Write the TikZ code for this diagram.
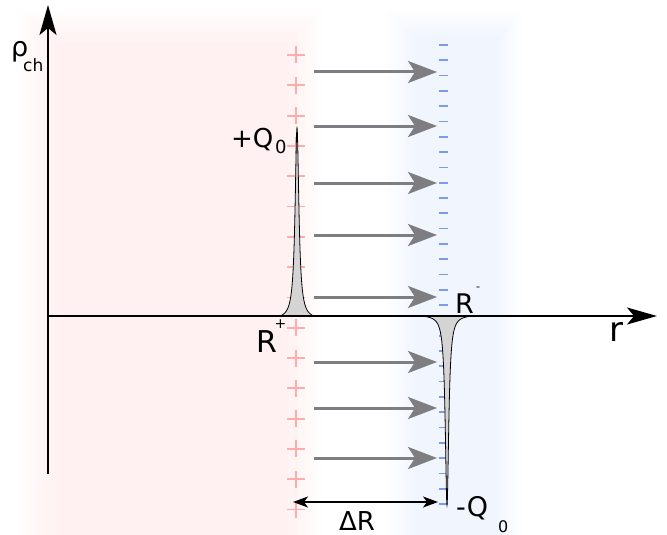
\documentclass[tikz,border=0pt]{standalone}
\usepackage{fontspec}
\setmainfont{DejaVu Sans}
\usetikzlibrary{arrows.meta}
\definecolor{pinkreg}{RGB}{255,190,190}
\definecolor{bluereg}{RGB}{185,210,250}
\definecolor{plusc}{RGB}{255,172,172}
\definecolor{minusc}{RGB}{125,155,235}
\definecolor{arrowgray}{RGB}{125,125,130}
\definecolor{peakfill}{RGB}{212,212,212}
\tikzset{
  lbl/.style={inner sep=0pt, anchor=base west, text=black},
  fieldarrow/.style={draw=arrowgray, fill=arrowgray, line width=3pt, -{Stealth[length=29pt,width=22pt,inset=7pt]}},
  axisline/.style={line width=1.4pt, -{Stealth[length=30pt,width=17pt,inset=7pt]}},
  dimarrow/.style={line width=1.3pt, {Stealth[length=15pt,width=11pt,inset=4pt]}-{Stealth[length=15pt,width=11pt,inset=4pt]}},
  plussign/.style={draw=plusc, line width=1.8pt},
  minussign/.style={draw=minusc, line width=1.7pt},
  peak/.style={fill=peakfill, draw=black, line width=0.8pt}
}
\begin{document}
\begin{tikzpicture}[x=1pt,y=-1pt]
\useasboundingbox (0,0) rectangle (667,535);
\clip (0,0) rectangle (667,535);
% soft background regions
\foreach \i in {0,...,19}{
  \fill[pinkreg, opacity=0.0135] ({15+45*\i/19},{8+37*\i/19}) rectangle ({322-37*\i/19},545);
  \fill[bluereg, opacity=0.0125] ({385+35*\i/19},{10+30*\i/19}) rectangle ({522-27*\i/19},545);
}
% charges
\foreach \k in {0,...,15}{
  \draw[plussign] ({287},{55+30.3*\k}) -- ++(18,0) ({296},{55+30.3*\k-8.5}) -- ++(0,17);
}
\foreach \k in {0,...,30}{
  \draw[minussign] ({439},{45+15.3*\k}) -- ++(8.5,0);
}
% peaks
\filldraw[peak] plot[domain=-17:17, samples=241] ({297+\x},{316-188*(1/(1+\x*\x/5.29)-0.018)/0.982}) -- cycle;
\filldraw[peak] plot[domain=-26:26, samples=321] ({447+\x},{316+189*(1/(1+\x*\x/4.41)-0.0065)/0.9935}) -- cycle;
% field arrows
\foreach \yy [count=\n] in {72,126,183,235,297,362,408,458}{
  \coordinate (fa\n) at (314,\yy);
  \coordinate (fb\n) at (437,\yy);
  \draw[fieldarrow] (fa\n) -- (fb\n);
}
% axes
\coordinate (O) at (48,316);
\coordinate (ybot) at (48,474);
\coordinate (ytop) at (48,5);
\coordinate (xend) at (657,316);
\draw[axisline] (ybot) -- (ytop);
\draw[axisline] (O) -- (xend);
% Delta R
\coordinate (dl) at (293,502);
\coordinate (dr) at (438,502);
\draw[dimarrow] (dl) -- (dr);
% labels
\node[lbl, font=\fontsize{27}{27}\selectfont] (rho) at (11,57) {ρ};
\node[lbl, font=\fontsize{17}{17}\selectfont] (ch) at (23,71) {ch};
\node[lbl, font=\fontsize{26}{26}\selectfont] (qp) at (231,147) {+Q};
\node[lbl, font=\fontsize{18}{18}\selectfont] (qp0) at (275,153) {0};
\node[lbl, font=\fontsize{30}{30}\selectfont] (rp) at (256,352) {R};
\node[inner sep=0pt, font=\fontsize{14}{14}\selectfont] (rps) at (280.5,324.5) {+};
\node[lbl, font=\fontsize{27}{27}\selectfont] (rm) at (455,313) {R};
\node[inner sep=0pt, font=\fontsize{11}{11}\selectfont] (rms) at (478,289) {-};
\node[lbl, font=\fontsize{27}{27}\selectfont] (qm) at (456,516) {-Q};
\node[lbl, font=\fontsize{16}{16}\selectfont] (qm0) at (498,532) {0};
\node[lbl, font=\fontsize{26}{26}\selectfont] (dR) at (339,530) {ΔR};
\node[lbl, font=\fontsize{34}{34}\selectfont] (rlab) at (609,341) {r};
\end{tikzpicture}
\end{document}
